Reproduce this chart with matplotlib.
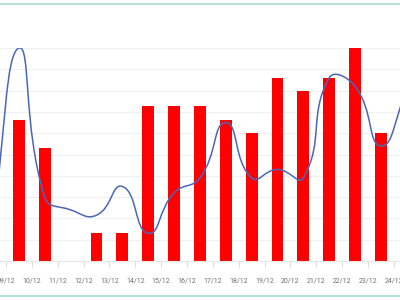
import numpy as np
import matplotlib.pyplot as plt
from matplotlib.path import Path
from matplotlib.patches import PathPatch
from matplotlib.lines import Line2D

labels = ['09/12', '10/12', '11/12', '12/12', '13/12', '14/12', '15/12', '16/12',
          '17/12', '18/12', '19/12', '20/12', '21/12', '22/12', '23/12', '24/12']
bar_vals = [6.6, 5.3, 0, 1.3, 1.3, 7.3, 7.3, 7.3, 6.6, 6.0, 8.6, 8.0, 8.6, 10.0, 6.0]
# line values at the bar slots, plus one slot on each side out of view
line_vals = [2.0, 10.0, 3.0, 2.4, 2.15, 3.5, 1.3, 3.2, 3.9, 6.5, 3.9, 4.3, 3.9, 8.6, 8.2, 5.4, 8.0]


def smooth_path(xs, ys, smooth=0.5):
    pts = np.column_stack([xs, ys]).astype(float)
    n = len(pts)
    cps = []
    for i in range(n):
        p = pts[i]
        prev = pts[i - 1] if i > 0 else p
        nxt = pts[i + 1] if i < n - 1 else p
        v = nxt - prev
        lp = np.hypot(*(p - prev))
        ln = np.hypot(*(nxt - p))
        tot = lp + ln
        if tot == 0:
            cps.append((p, p))
            continue
        cps.append((p - v * smooth * lp / tot, p + v * smooth * ln / tot))
    verts = [pts[0]]
    codes = [Path.MOVETO]
    for i in range(n - 1):
        verts += [cps[i][1], cps[i + 1][0], pts[i + 1]]
        codes += [Path.CURVE4] * 3
    return Path(verts, codes)


fig = plt.figure(figsize=(4, 3), dpi=100)
ax = fig.add_axes([0, 39 / 300, 1, 213 / 300])

bx = np.arange(len(bar_vals)) + 0.5
ax.bar(bx, bar_vals, width=0.46, color='#ff0000', zorder=2)

lx = np.arange(len(line_vals)) - 0.5
ax.add_patch(PathPatch(smooth_path(lx, line_vals), fill=False,
                       edgecolor='#4c66ba', lw=1.1, zorder=3))

ax.set_xlim(-0.232, 15.236)
ax.set_ylim(0, 10)
ax.set_yticks(range(1, 11))
ax.grid(axis='y', color='#f0f0f0', lw=0.8, zorder=0)
ax.set_xticks(range(len(labels)))
ax.set_xticklabels(labels, family='Roboto', fontsize=5, color='#707070')
ax.tick_params(axis='x', length=4.5, color='#dddddd', pad=7.5)
ax.tick_params(axis='y', left=False, labelleft=False)
for s in ['top', 'right', 'left']:
    ax.spines[s].set_visible(False)
ax.spines['bottom'].set_color('#e6e6e6')
ax.spines['bottom'].set_linewidth(0.8)

fig.add_artist(Line2D([0, 1], [1 - 4 / 300] * 2, color='#a8dccf', lw=1.2))
fig.add_artist(Line2D([0, 1], [1 - 296 / 300] * 2, color='#a8dccf', lw=1.2))

fig.savefig('out.png', dpi=100)
